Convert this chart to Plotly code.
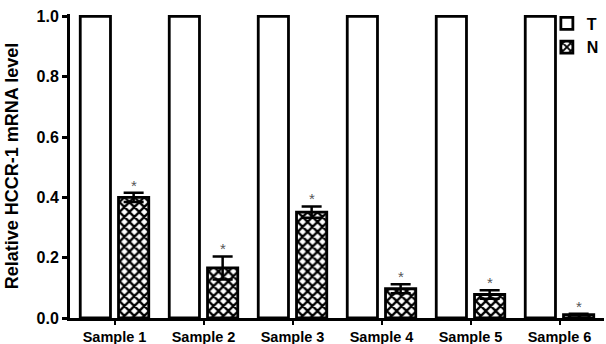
import plotly.graph_objects as go

categories = ["Sample 1", "Sample 2", "Sample 3", "Sample 4", "Sample 5", "Sample 6"]
t_values = [1.0, 1.0, 1.0, 1.0, 1.0, 1.0]
n_values = [0.40, 0.166, 0.351, 0.097, 0.078, 0.011]
n_errors = [0.015, 0.038, 0.019, 0.015, 0.014, 0.003]
y_ticks = [0.0, 0.2, 0.4, 0.6, 0.8, 1.0]

FONT = "Liberation Sans, Arial, sans-serif"

fig = go.Figure()
fig.add_trace(go.Bar(
    name="T", x=categories, y=t_values,
    marker=dict(color="white", line=dict(color="black", width=2.8)),
))
fig.add_trace(go.Bar(
    name="N", x=categories, y=n_values,
    error_y=dict(type="data", array=n_errors, visible=True,
                 color="black", thickness=2.5, width=10),
    marker=dict(color="white",
                line=dict(color="black", width=2.8),
                pattern=dict(shape="x", fgcolor="black", bgcolor="white",
                             size=7, solidity=0.55, fillmode="replace")),
))

for cat, v, e in zip(categories, n_values, n_errors):
    fig.add_annotation(x=cat, y=v + e, text="*", showarrow=False,
                       xshift=19, yanchor="bottom", yshift=-3,
                       font=dict(family=FONT, size=15, color="#555555"))

fig.update_layout(
    width=606, height=344,
    margin=dict(l=70, r=2, t=14, b=26, autoexpand=False),
    paper_bgcolor="white", plot_bgcolor="white",
    barmode="group", bargap=0.14, bargroupgap=0.21,
    font=dict(family=FONT, color="black"),
    showlegend=True,
    legend=dict(x=0.893, y=1.025, xanchor="left", yanchor="top",
                font=dict(family=FONT, size=16, color="black", weight="bold"),
                bgcolor="rgba(0,0,0,0)", itemwidth=30, tracegroupgap=0),
)
fig.update_xaxes(
    automargin=False,
    showline=True, linecolor="black", linewidth=3,
    ticks="outside", ticklen=4, tickwidth=2, tickcolor="black",
    tickfont=dict(family=FONT, size=14.5, color="black", weight="bold"),
    showgrid=False, zeroline=False, range=[-0.5, 5.5],
)
fig.update_yaxes(
    automargin=False,
    range=[0, 1.008], tickvals=y_ticks, tickformat=".1f",
    showline=True, linecolor="black", linewidth=3,
    ticks="outside", ticklen=5, tickwidth=3, tickcolor="black",
    tickfont=dict(family=FONT, size=16, color="black", weight="bold"),
    showgrid=False, zeroline=False,
    title=dict(text="Relative HCCR-1 mRNA level",
               font=dict(family=FONT, size=18, color="black", weight="bold"),
               standoff=14),
)

fig.write_html("out.html",
               config={"displayModeBar": False},
               post_script="document.body.style.margin='0px';document.body.style.overflow='hidden';")
